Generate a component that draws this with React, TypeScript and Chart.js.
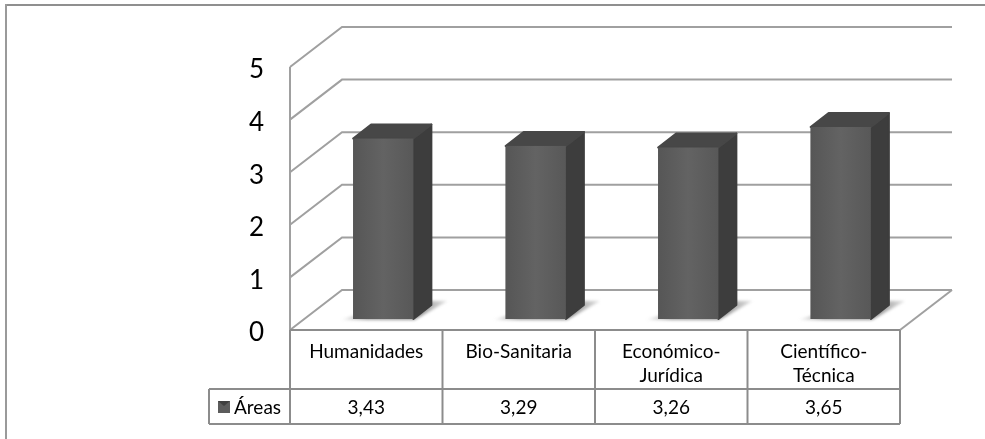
import { useEffect, useRef } from "react";
import { Chart, registerables } from "chart.js";

Chart.register(...registerables);

const categories: (string | string[])[] = ["Humanidades", "Bio-Sanitaria", ["Económico-", "Jurídica"], ["Científico-", "Técnica"]];
const areaValues = [3.43, 3.29, 3.26, 3.65];
const valueLabels = ["3,43", "3,29", "3,26", "3,65"];
const seriesName = "Áreas";
const yTicks = [0, 1, 2, 3, 4, 5];

const FONT = "Lato, Carlito, Calibri, sans-serif";
const GRID = "#a0a0a0";
const TABLE = "#8c8c8c";
const WALL_DX = 52;
const WALL_DY = -40;
const BAR_DX = 17;
const BAR_DY = -11;
const DEPTH_DX = 18;
const DEPTH_DY = -14;
const ROW1_BOTTOM = 389;
const ROW2_BOTTOM = 424;
const LEGEND_LEFT = 209;

function line(ctx: CanvasRenderingContext2D, pts: number[][]) {
  ctx.beginPath();
  pts.forEach((p, i) => (i ? ctx.lineTo(p[0], p[1]) : ctx.moveTo(p[0], p[1])));
  ctx.stroke();
}

const scene = {
  id: "scene",
  beforeDatasetsDraw(chart: any) {
    const { ctx, chartArea: a, scales } = chart;
    const y = scales.y;
    ctx.save();
    ctx.strokeStyle = GRID;
    ctx.lineWidth = 2;
    yTicks.forEach((t) => {
      const py = y.getPixelForValue(t);
      line(ctx, [
        [a.left, py],
        [a.left + WALL_DX, py + WALL_DY],
        [a.right + WALL_DX, py + WALL_DY],
      ]);
    });
    line(ctx, [
      [a.left, y.getPixelForValue(5)],
      [a.left, y.getPixelForValue(0)],
    ]);
    line(ctx, [
      [a.right, y.getPixelForValue(0)],
      [a.right + WALL_DX, y.getPixelForValue(0) + WALL_DY],
    ]);

    // soft floor shadows
    const meta = chart.getDatasetMeta(0);
    meta.data.forEach((bar: any) => {
      const l = bar.x - bar.width / 2 + BAR_DX;
      const r = l + bar.width;
      const b = bar.base + BAR_DY;
      ctx.save();
      ctx.filter = "blur(1.5px)";
      const g = ctx.createLinearGradient(l - 13, 0, r + 34, 0);
      g.addColorStop(0, "rgba(120,120,120,0)");
      g.addColorStop(0.25, "rgba(120,120,120,0.7)");
      g.addColorStop(0.75, "rgba(120,120,120,0.8)");
      g.addColorStop(1, "rgba(150,150,150,0.3)");
      ctx.fillStyle = g;
      ctx.beginPath();
      ctx.moveTo(l - 13, b + 1);
      ctx.lineTo(r + 1, b + 1);
      ctx.lineTo(r + 34, b - 18);
      ctx.lineTo(r, b - 18);
      ctx.lineTo(l, b - 3);
      ctx.closePath();
      ctx.fill();
      ctx.restore();
    });
    ctx.restore();
  },
  beforeDatasetDraw(chart: any) {
    const { ctx } = chart;
    ctx.save();
    ctx.translate(BAR_DX, BAR_DY);
  },
  afterDatasetDraw(chart: any) {
    const { ctx } = chart;
    ctx.restore();
    const meta = chart.getDatasetMeta(0);
    meta.data.forEach((bar: any) => {
      const l = bar.x - bar.width / 2 + BAR_DX;
      const r = l + bar.width;
      const t = bar.y + BAR_DY;
      const b = bar.base + BAR_DY;
      ctx.save();
      ctx.lineJoin = "round";
      ctx.lineWidth = 2;
      ctx.fillStyle = ctx.strokeStyle = "#3d3d3d";
      ctx.beginPath();
      ctx.moveTo(r, t);
      ctx.lineTo(r + DEPTH_DX, t + DEPTH_DY);
      ctx.lineTo(r + DEPTH_DX, b + DEPTH_DY);
      ctx.lineTo(r, b);
      ctx.closePath();
      ctx.fill();
      ctx.stroke();
      ctx.fillStyle = ctx.strokeStyle = "#474747";
      ctx.beginPath();
      ctx.moveTo(l, t);
      ctx.lineTo(l + DEPTH_DX, t + DEPTH_DY);
      ctx.lineTo(r + DEPTH_DX, t + DEPTH_DY);
      ctx.lineTo(r, t);
      ctx.closePath();
      ctx.fill();
      ctx.stroke();
      const g = ctx.createLinearGradient(l, 0, r, 0);
      g.addColorStop(0, "#565656");
      g.addColorStop(0.5, "#636363");
      g.addColorStop(1, "#585858");
      ctx.fillStyle = g;
      ctx.fillRect(l, t, bar.width, b - t);
      ctx.restore();
    });
  },
  afterDraw(chart: any) {
    const { ctx, chartArea: a, scales } = chart;
    const x = scales.x;
    const n = categories.length;
    const step = (a.right - a.left) / n;
    ctx.save();
    ctx.strokeStyle = TABLE;
    ctx.lineWidth = 2;
    line(ctx, [[a.left, a.bottom], [a.right, a.bottom]]);
    line(ctx, [[LEGEND_LEFT, ROW1_BOTTOM], [a.right, ROW1_BOTTOM]]);
    line(ctx, [[LEGEND_LEFT, ROW2_BOTTOM], [a.right, ROW2_BOTTOM]]);
    line(ctx, [[LEGEND_LEFT, ROW1_BOTTOM], [LEGEND_LEFT, ROW2_BOTTOM]]);
    for (let i = 0; i <= n; i++) {
      const px = a.left + i * step;
      line(ctx, [[px, a.bottom], [px, ROW2_BOTTOM]]);
    }
    ctx.fillStyle = "#000";
    ctx.font = `19px ${FONT}`;
    ctx.textBaseline = "middle";
    ctx.textAlign = "center";
    valueLabels.forEach((v, i) => {
      ctx.fillText(v, x.getPixelForTick(i), (ROW1_BOTTOM + ROW2_BOTTOM) / 2 + 1);
    });
    ctx.textAlign = "left";
    ctx.fillText(seriesName, 234, (ROW1_BOTTOM + ROW2_BOTTOM) / 2 + 1);
    ctx.fillStyle = "#5c5c5c";
    ctx.fillRect(218, 401, 12, 12);
    ctx.fillStyle = "#3f3f3f";
    ctx.beginPath();
    ctx.moveTo(218, 401);
    ctx.lineTo(230, 401);
    ctx.lineTo(224, 406);
    ctx.closePath();
    ctx.fill();
    ctx.restore();
  },
};

export default function App() {
  const ref = useRef<HTMLCanvasElement>(null);
  useEffect(() => {
    document.body.style.margin = "0";
    const chart = new Chart(ref.current!, {
      type: "bar",
      data: {
        labels: categories as any,
        datasets: [
          {
            label: seriesName,
            data: areaValues,
            backgroundColor: "#5c5c5c",
            barPercentage: 0.395,
            categoryPercentage: 1,
          },
        ],
      },
      options: {
        responsive: false,
        animation: false,
        layout: { padding: { left: 200, right: 85, top: 67, bottom: 0 } },
        plugins: { legend: { display: false }, tooltip: { enabled: false } },
        scales: {
          x: {
            grid: { display: false },
            border: { display: false },
            afterFit: (s: any) => {
              s.height = 109;
            },
            ticks: {
              color: "#000",
              padding: 2,
              maxRotation: 0,
              autoSkip: false,
              font: { family: FONT, size: 19, lineHeight: 1.26 },
            },
          },
          y: {
            min: 0,
            max: 5,
            grid: { display: false, drawTicks: false },
            border: { display: false },
            afterFit: (s: any) => {
              s.width = 90;
            },
            ticks: {
              color: "#000",
              padding: 26,
              stepSize: 1,
              labelOffset: 3,
              font: { family: FONT, size: 26 },
            },
          },
        },
      },
      plugins: [scene as any],
    });
    return () => chart.destroy();
  }, []);
  return (
    <div style={{ position: "relative", width: 985, height: 439, background: "#fff", overflow: "hidden" }}>
      <canvas ref={ref} width={985} height={439} style={{ display: "block", filter: "blur(0.35px)" }} />
      <div style={{ position: "absolute", left: 5, top: 4, width: 980, height: 2, background: "#8f8f8f" }} />
      <div style={{ position: "absolute", left: 5, top: 4, width: 2, height: 435, background: "#9a9a9a" }} />
    </div>
  );
}
